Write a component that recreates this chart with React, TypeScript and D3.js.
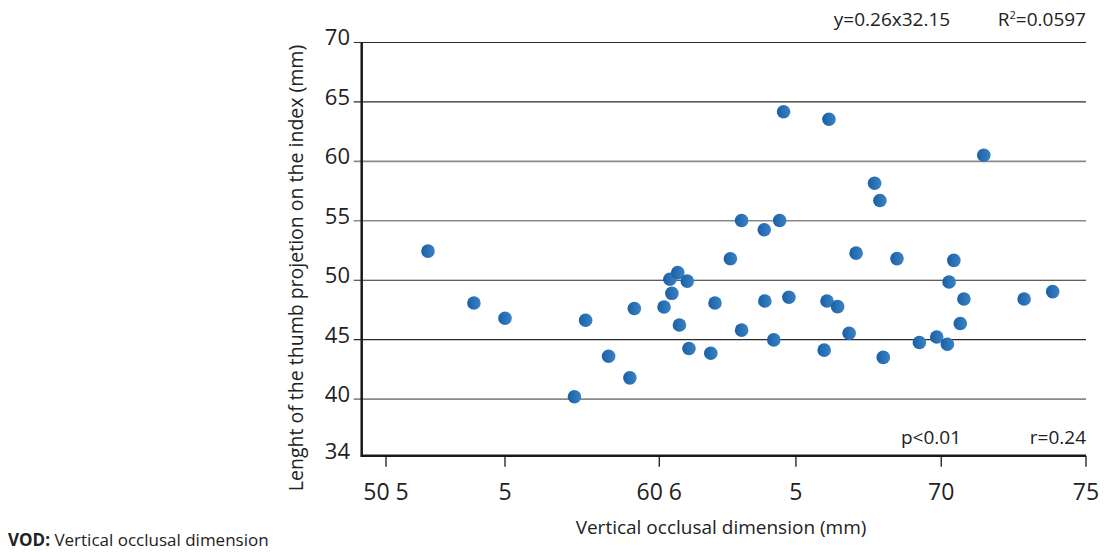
import React from 'react';
import * as d3 from 'd3';

// VOD (mm) vs thumb projection length (mm)
const vod = [
  51.5, 53.14, 54.25, 56.73, 57.13, 57.95, 58.71, 58.87, 59.93, 60.14,
  60.21, 60.42, 60.48, 60.76, 60.82, 61.6, 61.75, 62.3, 62.7, 62.7,
  63.51, 63.53, 63.85, 64.06, 64.2, 64.39, 65.65, 65.75, 65.82, 66.13,
  66.54, 66.79, 67.45, 67.64, 67.76, 68.25, 69.05, 69.67, 70.05, 70.11,
  70.28, 70.51, 70.64, 71.35, 72.79, 73.81,
];
const thumb = [
  52.45, 48.09, 46.8, 40.2, 46.63, 43.61, 41.79, 47.62, 47.75, 50.08,
  48.9, 50.64, 46.24, 49.93, 44.26, 43.86, 48.09, 51.81, 55.03, 45.8,
  54.25, 48.25, 44.98, 55.03, 64.18, 48.57, 44.12, 48.25, 63.54, 47.78,
  45.54, 52.28, 58.16, 56.71, 43.51, 51.82, 44.76, 45.23, 44.62, 49.85,
  51.67, 46.36, 48.42, 60.51, 48.42, 49.04,
];

// axis ticks (labels as printed in the original figure)
const xTicks = [50, 54.25, 59.76, 64.64, 69.83, 75];
const xTickLabels = ['50 5', '5', '60 6', '5', '70', '75'];
const yTicks = [35.24, 40, 45, 50, 55, 60, 65, 70];
const yTickLabels = ['34', '40', '45', '50', '55', '60', '65', '70'];
const gridValues = [40, 45, 50, 55, 60, 65, 70];
const gridGray = [40, 55, 60];

const font = '"Open Sans", "Noto Sans", sans-serif';

export default function App() {
  const width = 1104;
  const height = 552;
  const left = 361.7;
  const right = 1086;
  const top = 42.5;
  const bottom = 455.7;

  const x = d3.scaleLinear().domain([50, 75]).range([386, 1086]);
  const y = d3.scaleLinear().domain([35.24, 70]).range([bottom, top]);

  const points = vod.map((v, i) => ({ x: v, y: thumb[i] }));

  return (
    <svg width={width} height={height} style={{ position: 'absolute', left: 0, top: 0 }}>
      <defs>
        <linearGradient id="dot" x1="0" x2="1" y1="0" y2="0">
          <stop offset="0%" stopColor="#1a5fa6" />
          <stop offset="100%" stopColor="#3a83c4" />
        </linearGradient>
      </defs>
      <rect width={width} height={height} fill="#fff" />

      {/* gridlines */}
      {gridValues.map(v => (
        <line
          key={v}
          x1={left - 8}
          x2={right}
          y1={y(v)}
          y2={y(v)}
          stroke={gridGray.includes(v) ? '#8a8a8a' : '#2a2a2a'}
          strokeWidth={gridGray.includes(v) ? 1.6 : 1.2}
        />
      ))}

      {/* y tick labels */}
      {yTicks.map((v, i) => (
        <text
          key={v}
          x={350}
          y={y(v) - 3}
          textAnchor="end"
          dominantBaseline="middle"
          fontFamily={font}
          fontSize={22}
          fill="#222"
        >
          {yTickLabels[i]}
        </text>
      ))}

      {/* axes */}
      <line x1={left} x2={left} y1={top} y2={bottom + 1} stroke="#1a1a1a" strokeWidth={2.5} />
      <line x1={left - 1} x2={right} y1={bottom} y2={bottom} stroke="#1a1a1a" strokeWidth={2.5} />
      {xTicks.map((v, i) => (
        <g key={i} transform={`translate(${x(v)},0)`}>
          <line y1={bottom} y2={bottom + 11} stroke="#1a1a1a" strokeWidth={1.3} />
          <text
            y={494}
            textAnchor="middle"
            dominantBaseline="middle"
            fontFamily={font}
            fontSize={23}
            fill="#222"
          >
            {xTickLabels[i]}
          </text>
        </g>
      ))}

      {/* points */}
      {points.map((p, i) => (
        <circle key={i} cx={x(p.x)} cy={y(p.y)} r={6.8} fill="url(#dot)" />
      ))}

      {/* annotations */}
      <text x={892} y={26} textAnchor="middle" fontFamily={font} fontSize={19} fill="#222">
        y=0.26x32.15
      </text>
      <text x={1086} y={26} textAnchor="end" fontFamily={font} fontSize={19} fill="#222">
        R<tspan dy={-7} fontSize={11}>2</tspan>
        <tspan dy={7}>=0.0597</tspan>
      </text>
      <text x={931} y={444} textAnchor="middle" fontFamily={font} fontSize={19} fill="#222">
        p&lt;0.01
      </text>
      <text x={1086} y={444} textAnchor="end" fontFamily={font} fontSize={19} fill="#222">
        r=0.24
      </text>

      {/* axis titles */}
      <text x={721} y={534} textAnchor="middle" fontFamily={font} fontSize={19} fill="#222">
        Vertical occlusal dimension (mm)
      </text>
      <text
        transform="translate(303,268) rotate(-90)"
        textAnchor="middle"
        fontFamily={font}
        fontSize={19.5}
        fill="#222"
      >
        Lenght of the thumb projetion on the index (mm)
      </text>

      <text x={8} y={546} fontFamily={font} fontSize={17} fill="#222">
        <tspan fontWeight="bold">VOD:</tspan> Vertical occlusal dimension
      </text>
    </svg>
  );
}
